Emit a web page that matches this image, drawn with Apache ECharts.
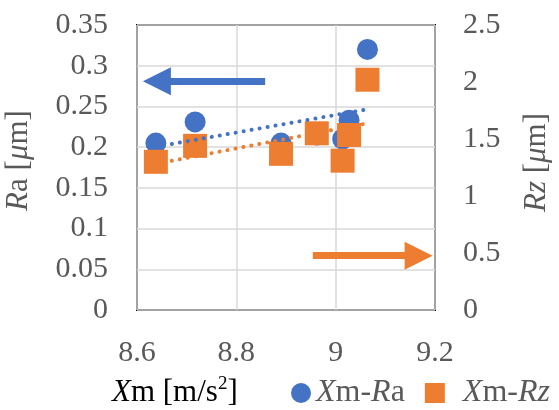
<!DOCTYPE html>
<html>
<head>
<meta charset="utf-8">
<script src="https://cdn.jsdelivr.net/npm/echarts@6/dist/echarts.min.js"></script>
<style>
  html, body { margin: 0; padding: 0; background: #fff; }
  #chart { width: 559px; height: 410px; }
</style>
</head>
<body>
<div id="chart"></div>
<script>
// Measured surface roughness against Xm
const xm = [8.638, 8.717, 8.890, 8.962, 9.014, 9.027, 9.064];
const ra = [0.205, 0.231, 0.205, 0.215, 0.210, 0.233, 0.320];
const rz = [1.30, 1.44, 1.37, 1.55, 1.31, 1.535, 2.02];

// Linear trend endpoints (Ra and Rz)
const trendX = [8.638, 9.064];
const raTrend = [0.2004, 0.2465];
const rzTrend = [1.282, 1.638];

// Axis ranges and ticks
const xTicks = [8.6, 8.8, 9.0, 9.2];
const raTicks = [0, 0.05, 0.1, 0.15, 0.2, 0.25, 0.3, 0.35];
const rzTicks = [0, 0.5, 1, 1.5, 2, 2.5];

// Arrows pointing each series to its axis: [tailX, headX, y]
const raArrow = [8.858, 8.640, 0.281];
const rzArrow = [8.954, 9.167, 0.476];

const BLUE = '#4472c4';
const ORANGE = '#ed7d31';
const GREY = '#595959';
const FONT = '"Liberation Serif", "Times New Roman", serif';
const FS = 30;   // tick labels
const NS = 31;   // axis names
const LS = 32;   // legend

function richSet(size) {
  return {
    i: { fontFamily: FONT, fontSize: size, fontStyle: 'italic', color: GREY, lineHeight: 36 },
    n: { fontFamily: FONT, fontSize: size, color: GREY, lineHeight: 36 },
    sup: { fontFamily: FONT, fontSize: Math.round(size * 0.62), color: GREY, lineHeight: 36, verticalAlign: 'top', padding: [0, 0, 14, 0] },
    g: { width: 13, lineHeight: 36 }
  };
}

const head = 'path://M50,0 L100,100 L0,100 Z';

function arrowLine(a, color) {
  return {
    silent: true,
    animation: false,
    symbol: ['none', head],
    symbolSize: [28, 28],
    label: { show: false },
    lineStyle: { color: color, width: 7, type: 'solid' },
    itemStyle: { color: color },
    emphasis: { disabled: true },
    data: [[{ coord: [a[0], a[2]] }, { coord: [a[1], a[2]] }]]
  };
}

const chart = echarts.init(document.getElementById('chart'), null, { renderer: 'canvas' });

chart.setOption({
  animation: false,
  backgroundColor: '#fff',
  grid: {
    left: 137, top: 25, right: 124, bottom: 100,
    outerBoundsMode: 'none',
    containLabel: false,
    show: true, borderColor: '#000', borderWidth: 2, backgroundColor: 'transparent'
  },
  legend: {
    left: 291, top: 377,
    width: 300,
    padding: 0,
    itemWidth: 20, itemHeight: 20, itemGap: 20,
    selectedMode: false,
    data: ['Xm-Ra', 'Xm-Rz'],
    formatter: function (name) {
      return name === 'Xm-Ra' ? '{i|X}{n|m-}{i|R}{n|a}' : '{g|}{i|X}{n|m-}{i|Rz}';
    },
    textStyle: { rich: richSet(LS) }
  },
  xAxis: {
    type: 'value',
    min: xTicks[0], max: xTicks[xTicks.length - 1], interval: 0.2,
    axisLine: { show: false },
    axisTick: { show: false },
    splitLine: { lineStyle: { color: '#d9d9d9', width: 1.5 } },
    axisLabel: {
      fontFamily: FONT, fontSize: FS, color: GREY, margin: 28,
      formatter: function (v) { return String(Math.round(v * 10) / 10); }
    }
  },
  yAxis: [{
    type: 'value',
    min: raTicks[0], max: raTicks[raTicks.length - 1], interval: 0.05,
    axisLine: { show: false },
    axisTick: { show: false },
    splitLine: { lineStyle: { color: '#d9d9d9', width: 1.5 } },
    axisLabel: {
      fontFamily: FONT, fontSize: FS, color: GREY, margin: 29,
      formatter: function (v) { return String(Math.round(v * 100) / 100); }
    },
    name: '{i|R}{n|a [}{i|μ}{n|m]}',
    nameLocation: 'middle', nameRotate: 90, nameGap: 100,
    nameTextStyle: { rich: richSet(NS), padding: [0, 0, 0, 14] }
  }, {
    type: 'value',
    min: rzTicks[0], max: rzTicks[rzTicks.length - 1], interval: 0.5,
    axisLine: { show: false },
    axisTick: { show: false },
    splitLine: { show: false },
    axisLabel: {
      fontFamily: FONT, fontSize: FS, color: GREY, margin: 28,
      formatter: function (v) { return String(Math.round(v * 10) / 10); }
    },
    name: '{i|Rz}{n| [}{i|μ}{n|m]}',
    nameLocation: 'middle', nameRotate: 90, nameGap: 84,
    nameTextStyle: { rich: richSet(NS), padding: [0, 0, 0, 10] }
  }],
  graphic: [{
    type: 'text',
    left: 112, top: 375,
    silent: true,
    style: {
      text: '{i|X}{n|m [m/s}{sup|2}{n|]}',
      rich: richSet(NS)
    }
  }],
  series: [{
    name: 'Xm-Ra',
    type: 'scatter',
    yAxisIndex: 0,
    symbol: 'circle',
    symbolSize: 21,
    itemStyle: { color: BLUE, opacity: 1 },
    data: xm.map((x, i) => [x, ra[i]]),
    markLine: arrowLine(raArrow, BLUE),
    z: 2
  }, {
    name: 'Xm-Rz',
    type: 'scatter',
    yAxisIndex: 1,
    symbol: 'rect',
    symbolSize: 24,
    itemStyle: { color: ORANGE, opacity: 1 },
    data: xm.map((x, i) => [x, rz[i]]),
    markLine: arrowLine(rzArrow, ORANGE),
    z: 3
  }, {
    name: 'Ra trend',
    type: 'line',
    yAxisIndex: 0,
    symbol: 'none',
    silent: true,
    lineStyle: { color: BLUE, width: 4, type: [0.1, 8], cap: 'round' },
    data: trendX.map((x, i) => [x, raTrend[i]]),
    z: 4
  }, {
    name: 'Rz trend',
    type: 'line',
    yAxisIndex: 1,
    symbol: 'none',
    silent: true,
    lineStyle: { color: ORANGE, width: 4, type: [0.1, 8], cap: 'round' },
    data: trendX.map((x, i) => [x, rzTrend[i]]),
    z: 4
  }]
});
</script>
</body>
</html>
